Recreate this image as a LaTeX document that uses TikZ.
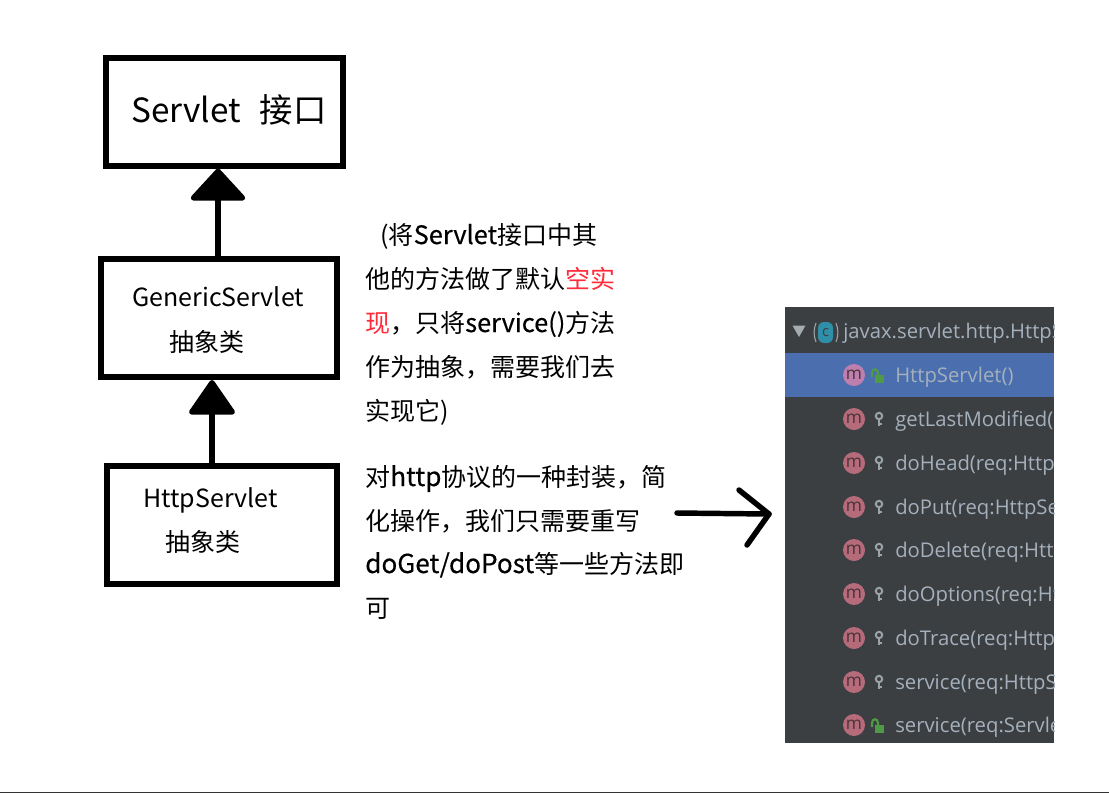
\documentclass[tikz,border=0pt]{standalone}
\usepackage{fontspec}
\usetikzlibrary{arrows.meta,calc}
\setmainfont{Noto Sans CJK SC}
\newfontfamily\idefont{Open Sans}
\newfontfamily\latbold[FakeBold=0.35]{Noto Sans CJK SC}
\newcommand{\lat}[1]{{\latbold\fontsize{19.6pt}{22pt}\selectfont #1}}
\newcommand{\lats}[1]{{\latbold\fontsize{19pt}{22pt}\selectfont #1}}
\definecolor{panel}{HTML}{3C3F41}
\definecolor{sel}{HTML}{4B6EAF}
\definecolor{idetxt}{HTML}{A4B0BC}
\definecolor{mcirc}{HTML}{B56B7A}
\definecolor{mcircsel}{HTML}{BE7FAE}
\definecolor{mtxt}{HTML}{4A3338}
\definecolor{lockg}{HTML}{4E9A47}
\definecolor{keyg}{HTML}{9AA3A8}
\definecolor{teal}{HTML}{2F8FA8}
\definecolor{note}{HTML}{FF2A3A}
\tikzset{
  x=0.75pt,y=-0.75pt,
  boxs/.style={draw=black,line width=4.5pt,fill=white,inner sep=0pt,minimum width=#1},
  big/.style={font=\fontsize{25pt}{30pt}\selectfont,anchor=base west,inner sep=0pt},
  mid/.style={font=\fontsize{18.75pt}{22pt}\selectfont,anchor=base west,inner sep=0pt},
  body/.style={font=\fontsize{18.75pt}{22pt}\selectfont,anchor=base west,inner sep=0pt},
  ide/.style={font=\idefont\fontsize{15.2pt}{18pt}\selectfont,text=idetxt,anchor=base west,inner sep=0pt},
  mic/.style={circle,fill=mcirc,inner sep=0pt,minimum size=16.5pt,text=mtxt,font=\idefont\fontsize{13pt}{13pt}\selectfont},
  inhA/.style={line width=3.9pt,-{Triangle[length=25pt,width=45pt,round]}},
  inhB/.style={line width=3.9pt,-{Triangle[length=27.5pt,width=37pt,round]}},
  thick arrow/.style={line width=4.1pt,line cap=round,line join=round},
}
\newcommand{\keyicon}[2]{%
  \draw[keyg,line width=1.5pt] (#1,#2-3) circle[radius=3.2];
  \draw[keyg,line width=2pt] (#1,#2) -- (#1,#2+7) (#1,#2+5) -- (#1+3,#2+5);}
\newcommand{\lockicon}[2]{%
  \fill[lockg] (#1-3,#2-1) rectangle (#1+6,#2+7);
  \draw[lockg,line width=1.6pt] (#1-6,#2+1) -- (#1-6,#2-3) .. controls (#1-6,#2-8) and (#1,#2-8) .. (#1,#2-3) -- (#1,#2-1);}
\begin{document}
\begin{tikzpicture}
\useasboundingbox (0,0) rectangle (1109,793);
\fill[white] (0,0) rectangle (1109,793);
\draw[black!80,line width=0.9pt] (0,792.4) -- (1109,792.4);

% left hierarchy
\node[boxs=237pt*0.75,minimum height=108*0.75pt] (servlet) at (224.5,111.5) {};
\node[boxs=236pt*0.75,minimum height=118*0.75pt] (generic) at (219,318) {};
\node[boxs=230pt*0.75,minimum height=118*0.75pt] (http) at (222,525) {};
\draw[inhA] (generic.north -| 218,0) -- (servlet.south -| 218,0);
\draw[inhB] (http.north -| 212,0) -- (generic.south -| 212,0);

\node[big] (t1) at (131,122) {Servlet\ \ \hspace{3pt}接口};
\node[mid] (t2) at (132,306) {GenericServlet};
\node[mid] (t3) at (169,351) {抽象类};
\node[mid] (t4) at (143,507) {HttpServlet};
\node[mid] (t5) at (165,551) {抽象类};

% notes
\node[body] (n1) at (380,244) {(将\lats{Servlet}接口中其};
\node[body] (n2) at (365,288) {他的方法做了默认\textcolor{note}{空实}};
\node[body] (n3) at (365,332) {\textcolor{note}{现}，只将\lats{service()}方法};
\node[body] (n4) at (365,376) {作为抽象，需要我们去};
\node[body] (n5) at (365,420) {实现它)};
\node[body] (n6) at (365,486) {对\lat{http}协议的一种封装，简};
\node[body] (n7) at (365,530) {化操作，我们只需要重写};
\node[body] (n8) at (365,573) {\lat{doGet/doPost}等一些方法即};
\node[body] (n9) at (365,617) {可};

% panel
\fill[panel] (785,307) rectangle (1054,743);
\fill[sel] (785,353) rectangle (1054,397);
\begin{scope}
\clip (785,307) rectangle (1054,743);
\fill[keyg!90] (792.5,325.5) -- (805.5,325.5) -- (799,337) -- cycle;
\node[rounded corners=4.5pt,fill=teal,inner sep=0pt,minimum width=11.25pt,minimum height=15.75pt,text=panel,font=\idefont\fontsize{11pt}{11pt}\selectfont] (cicon) at (825.5,332.5) {c};
\draw[keyg,line width=0.8pt] (816,323) .. controls (813.5,329) and (813.5,336) .. (816,342);
\draw[keyg,line width=0.8pt] (836,323) .. controls (838.5,329) and (838.5,336) .. (836,342);
\node[ide] (r0) at (843,338) {javax.servlet.http.HttpS};
\node[mic,fill=mcircsel] (m1) at (854,375) {m};
\node[ide] (r1) at (895,382) {HttpServlet()};
\lockicon{878}{376}
\foreach \yy/\txt/\nm in {419/getLastModified(/2,463/doHead(req:Http/3,507/doPut(req:HttpSe/4,550/doDelete(req:Htt/5,594/doOptions(req:Ht/6,638/doTrace(req:Http/7,682/service(req:HttpS/8}{
  \node[mic] (m\nm) at (854,\yy) {m};
  \node[ide] (r\nm) at (895,\yy+7) {\txt};
  \keyicon{879}{\yy}
}
\node[mic] (m9) at (854,725) {m};
\node[ide] (r9) at (895,732) {service(req:Servle};
\lockicon{878}{726}
\end{scope}

% pointing arrow
\coordinate (as) at (677,513);
\coordinate (at) at (769,514);
\coordinate (a1) at (739,490);
\coordinate (a2) at (747,545);
\draw[thick arrow] (as) -- (at);
\draw[thick arrow] (a1) -- (at) -- (a2);
\end{tikzpicture}
\end{document}
